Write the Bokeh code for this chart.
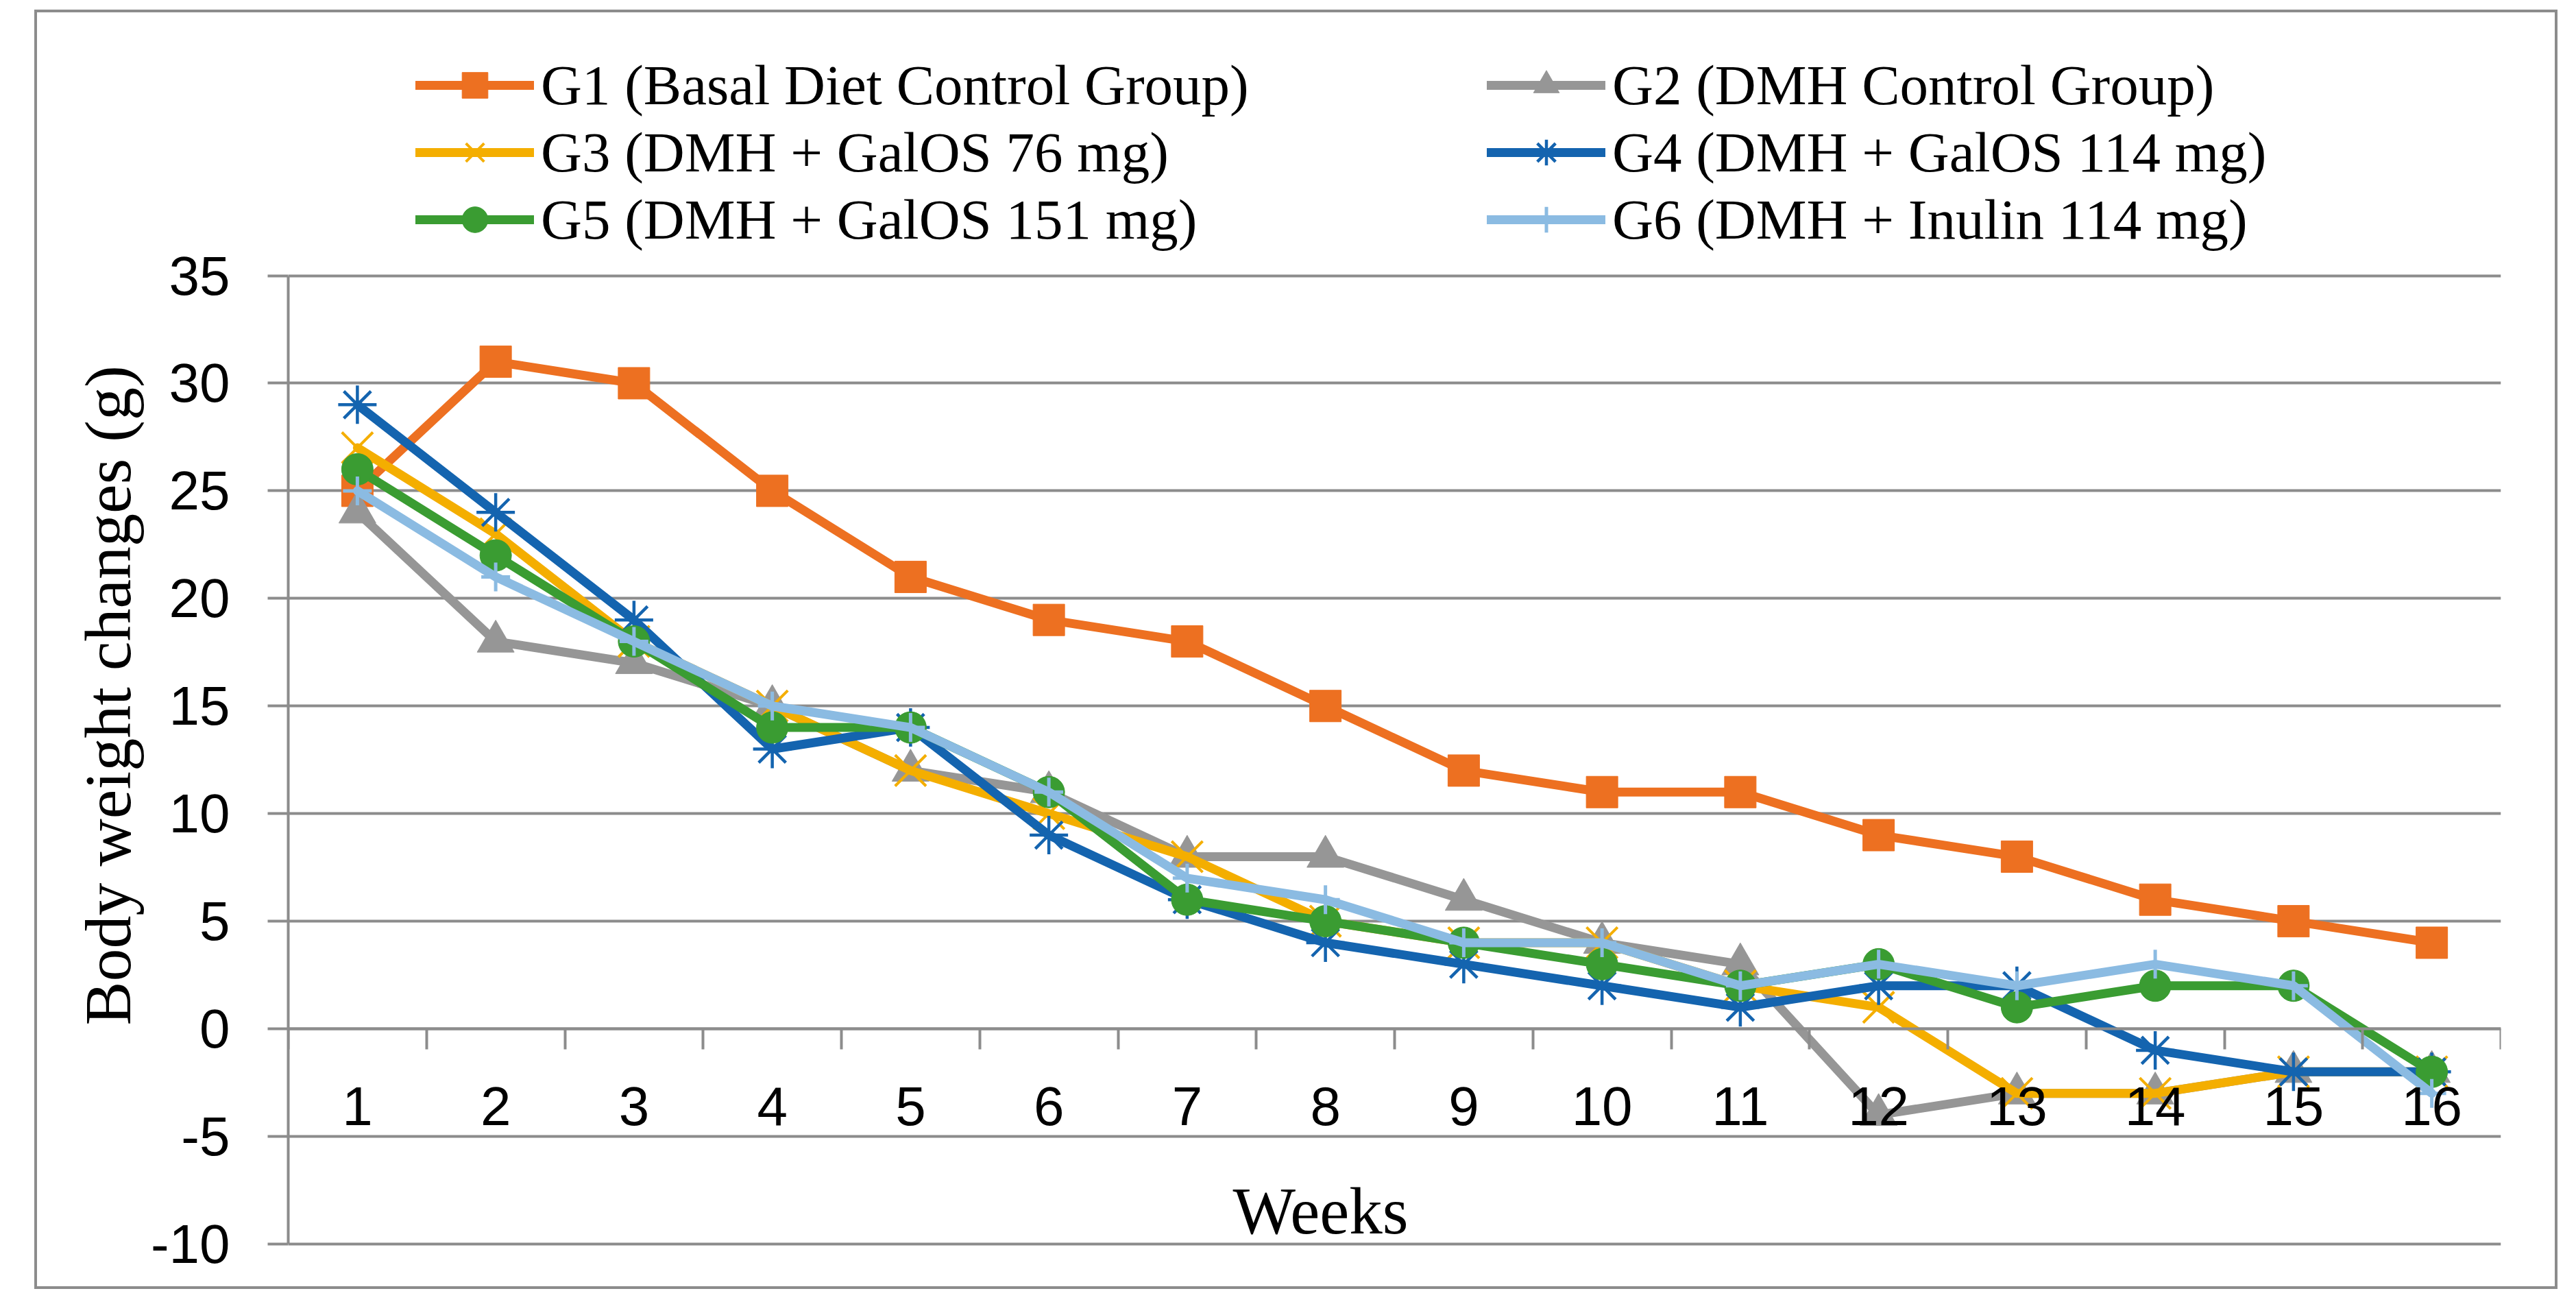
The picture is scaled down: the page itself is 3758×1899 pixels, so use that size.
from bokeh.plotting import figure
from bokeh.models import Range1d, FixedTicker, Legend, LegendItem, Label, Title
from bokeh.embed import file_html
from bokeh.resources import INLINE

# ---- data ----
weeks = list(range(1, 17))
week_labels = [str(w) for w in weeks]
week_edges = [w - 0.5 for w in weeks] + [16.5]
y_ticks = [-10, -5, 0, 5, 10, 15, 20, 25, 30, 35]
y_tick_labels = ["-10", "-5", "0", "5", "10", "15", "20", "25", "30", "35"]

g1 = [25, 31, 30, 25, 21, 19, 18, 15, 12, 11, 11, 9, 8, 6, 5, 4]
g2 = [24, 18, 17, 15, 12, 11, 8, 8, 6, 4, 3, -4, -3, -3, -2, -2]
g3 = [27, 23, 18, 15, 12, 10, 8, 5, 4, 4, 2, 1, -3, -3, -2, -2]
g4 = [29, 24, 19, 13, 14, 9, 6, 4, 3, 2, 1, 2, 2, -1, -2, -2]
g5 = [26, 22, 18, 14, 14, 11, 6, 5, 4, 3, 2, 3, 1, 2, 2, -2]
g6 = [25, 21, 18, 15, 14, 11, 7, 6, 4, 4, 2, 3, 2, 3, 2, -3]

series_names = [
    "G1 (Basal Diet Control Group)",
    "G2 (DMH Control Group)",
    "G3 (DMH + GalOS 76 mg)",
    "G4 (DMH + GalOS 114 mg)",
    "G5 (DMH + GalOS 151 mg)",
    "G6 (DMH + Inulin 114 mg)",
]
series_values = [g1, g2, g3, g4, g5, g6]
x_title = "Weeks"
y_title = "Body weight changes (g)"

colors = ["#ED7021", "#969696", "#F4AE00", "#1464AF", "#3A9C32", "#8BBBE2"]
markers = ["square", "triangle", "x", "asterisk", "circle", "cross"]
marker_sizes = [46, 54, 64, 56, 46, 42]
marker_filled = [True, True, False, False, True, False]
marker_lw = [1, 1, 4, 4.5, 1, 5]

GRID = "#8C8C8C"
SERIF = "Liberation Serif"
SANS = "Liberation Sans"

Y_MIN = -10.1
Y_MAX = 45.946   # room above the 35 line holds the legend

p = figure(
    width=3673, height=1858,
    x_range=Range1d(0.5, 16.5), y_range=Range1d(Y_MIN, Y_MAX),
    output_backend="svg", toolbar_location=None, title=None,
    min_border_left=366, min_border_right=87,
    min_border_top=40, min_border_bottom=67,
)
p.styles = {"position": "relative", "left": "50px", "top": "14px",
            "box-sizing": "content-box", "border": "4px solid " + GRID}
p.outline_line_color = None
p.background_fill_color = "white"
p.border_fill_color = "white"

# grid
p.xgrid.visible = False
p.ygrid.ticker = FixedTicker(ticks=y_ticks)
p.ygrid.grid_line_color = GRID
p.ygrid.grid_line_width = 4

# y axis
ya = p.yaxis[0]
ya.ticker = FixedTicker(ticks=y_ticks)
ya.bounds = (min(y_ticks), max(y_ticks))
ya.major_label_overrides = {t: lab for t, lab in zip(y_ticks, y_tick_labels)}
ya.axis_line_color = GRID
ya.axis_line_width = 4
ya.major_tick_line_color = GRID
ya.major_tick_line_width = 4
ya.major_tick_out = 30
ya.major_tick_in = 0
ya.minor_tick_line_color = None
ya.major_label_standoff = 55
ya.major_label_text_font = SANS
ya.major_label_text_font_size = "80px"
ya.major_label_text_color = "black"

# x axis at y = 0
xa = p.xaxis[0]
xa.fixed_location = 0
xa.ticker = FixedTicker(ticks=weeks, minor_ticks=week_edges)
xa.major_label_overrides = {w: lab for w, lab in zip(weeks, week_labels)}
xa.axis_line_color = GRID
xa.axis_line_width = 4
xa.major_tick_line_color = None
xa.major_tick_out = 0
xa.major_tick_in = 0
xa.minor_tick_line_color = GRID
xa.minor_tick_line_width = 4
xa.minor_tick_out = 30
xa.minor_tick_in = 0
xa.major_label_standoff = 55
xa.major_label_text_font = SANS
xa.major_label_text_font_size = "80px"
xa.major_label_text_color = "black"

items = []
for name, vals, col, mk, sz, filled, mlw in zip(series_names, series_values, colors,
                                                markers, marker_sizes, marker_filled,
                                                marker_lw):
    lr = p.line(weeks, vals, line_color=col, line_width=13,
                line_join="round", line_cap="round")
    if filled:
        sr = p.scatter(weeks, vals, marker=mk, size=sz, fill_color=col,
                       line_color=col, line_width=mlw)
    else:
        sr = p.scatter(weeks, vals, marker=mk, size=sz, fill_color=None,
                       line_color=col, line_width=mlw)
    items.append(LegendItem(label=name, renderers=[lr, sr]))

legend = Legend(
    items=items, orientation="horizontal", ncols=2,
    location=(186, 1449),
    glyph_width=173, glyph_height=94, label_height=94, label_width=1378,
    label_standoff=10, spacing=2, padding=0, margin=0,
    label_text_font=SERIF, label_text_font_size="83px",
    label_text_color="black", label_text_baseline="middle",
    border_line_color=None, background_fill_alpha=0,
)
p.add_layout(legend, "center")

p.add_layout(Title(text=y_title, align="left", offset=322, vertical_align="middle",
                   text_font=SERIF, text_font_size="96px", text_font_style="normal",
                   text_color="black", standoff=10), "left")
p.add_layout(Label(x=1506, y=51, x_units="screen", y_units="screen",
                   text=x_title, text_align="center", text_baseline="middle",
                   text_font=SERIF, text_font_size="97px", text_color="black"))

open("out.html", "w").write(file_html(p, INLINE))
